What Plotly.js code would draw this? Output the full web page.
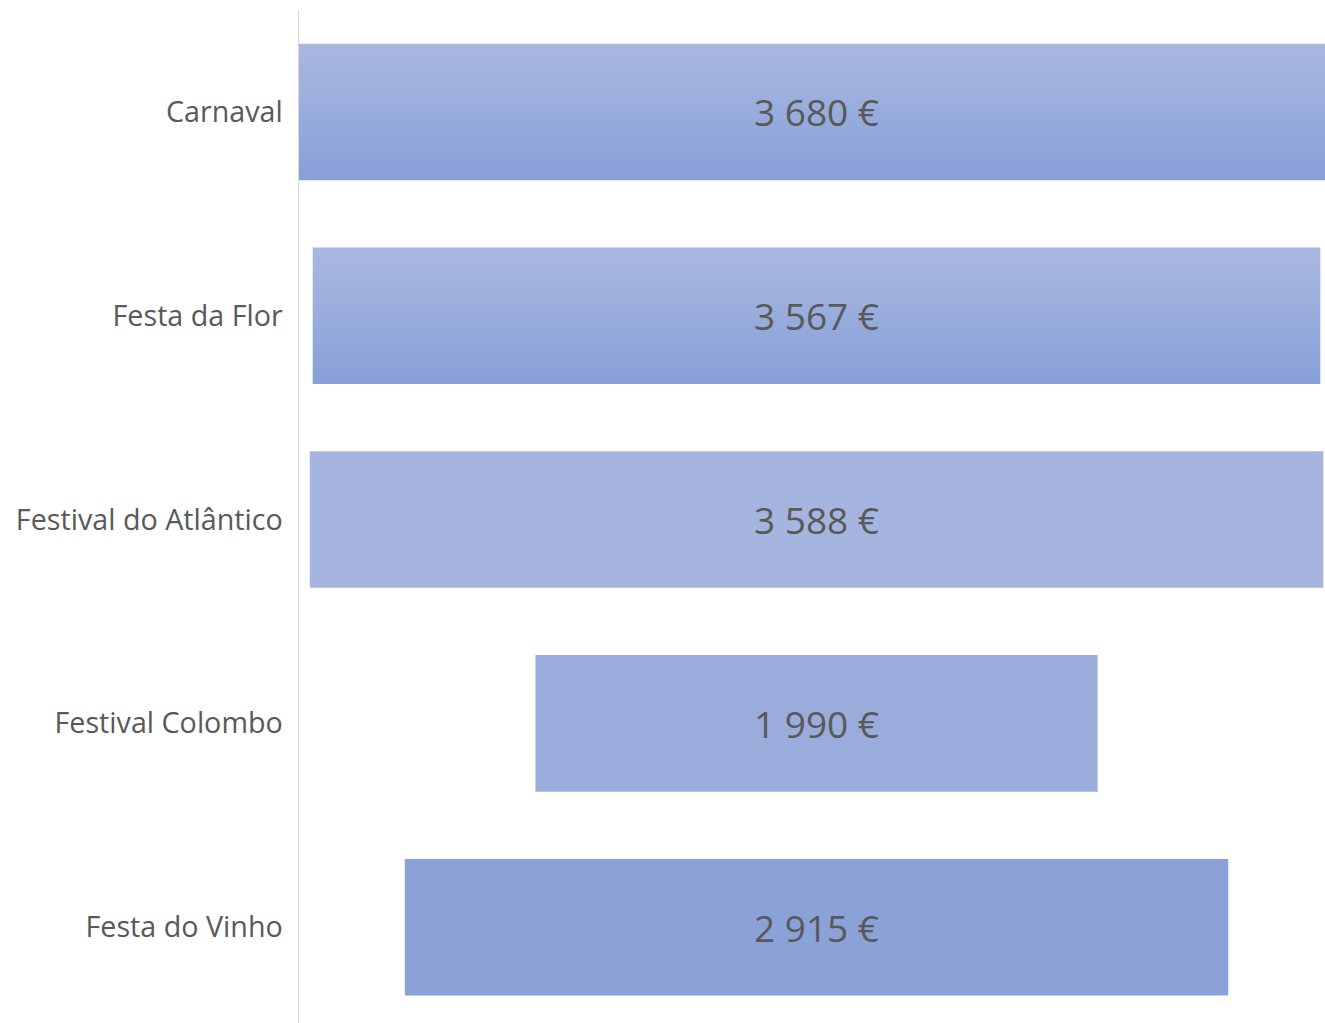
<!DOCTYPE html>
<html>
<head>
<meta charset="utf-8">
<script src="https://cdn.plot.ly/plotly-3.0.1.min.js"></script>
<style>html,body{margin:0;padding:0;background:#fff;}#chart{width:1325px;height:1023px;}</style>
</head>
<body>
<div id="chart"></div>
<script>
const categories = ["Carnaval", "Festa da Flor", "Festival do Atlântico", "Festival Colombo", "Festa do Vinho"];
const values = [3680, 3567, 3588, 1990, 2915];
const barColors = ["#98abdc", "#98abdc", "#a6b5df", "#9aacdc", "#8ba2d9"];
const gradientBars = [true, true, false, false, false];

const trace = {
  type: "funnel",
  orientation: "h",
  y: categories,
  x: values,
  marker: { color: barColors, line: { width: 0 } },
  connector: { visible: false },
  textinfo: "value",
  texttemplate: "%{value:,.0f} €",
  textposition: "inside",
  insidetextanchor: "middle",
  textfont: { family: "Open Sans", size: 37, color: "#595959" },
  constraintext: "none",
  width: 0.67,
  hoverinfo: "none"
};

const layout = {
  width: 1325,
  height: 1023,
  margin: { l: 299, r: 0, t: 10, b: 0 },
  paper_bgcolor: "#ffffff",
  plot_bgcolor: "#ffffff",
  separators: ", ",
  showlegend: false,
  xaxis: { visible: false, range: [-1832, 1800], fixedrange: true },
  yaxis: {
    range: [4.47, -0.5],
    showline: true,
    linecolor: "#d9d9d9",
    linewidth: 1.5,
    showgrid: false,
    ticks: "",
    ticklabelstandoff: 9,
    tickfont: { family: "Open Sans", size: 28.7, color: "#595959" },
    fixedrange: true
  }
};

Plotly.newPlot("chart", [trace], layout, { displayModeBar: false, staticPlot: true }).then(function (gd) {
  try {
    const svg = gd.querySelector("svg.main-svg");
    const ns = "http://www.w3.org/2000/svg";
    let defs = svg.querySelector("defs");
    if (!defs) { defs = document.createElementNS(ns, "defs"); svg.insertBefore(defs, svg.firstChild); }
    const lg = document.createElementNS(ns, "linearGradient");
    lg.setAttribute("id", "barGrad");
    lg.setAttribute("x1", "0"); lg.setAttribute("y1", "0");
    lg.setAttribute("x2", "0"); lg.setAttribute("y2", "1");
    [["0", "#aab8e1"], ["1", "#87a0d8"]].forEach(function (s) {
      const st = document.createElementNS(ns, "stop");
      st.setAttribute("offset", s[0]);
      st.setAttribute("stop-color", s[1]);
      lg.appendChild(st);
    });
    defs.appendChild(lg);
    const paths = gd.querySelectorAll(".trace.bars .point path");
    paths.forEach(function (p, i) {
      if (gradientBars[i]) p.style.fill = "url(#barGrad)";
    });
  } catch (e) {}
});
</script>
</body>
</html>
